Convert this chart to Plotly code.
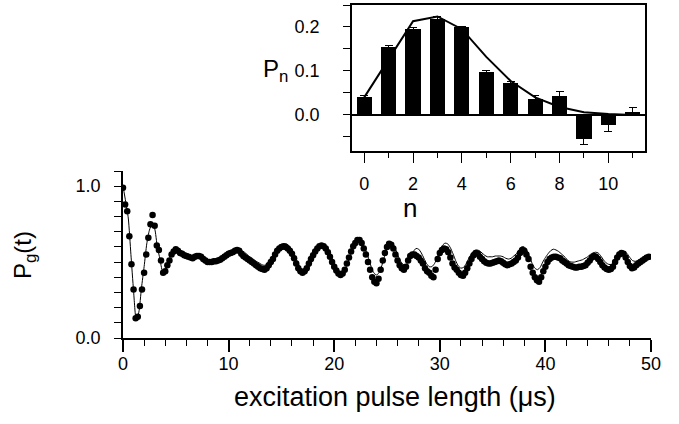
import numpy as np
import plotly.graph_objects as go

# ---------------- inset data ----------------
n_vals = [0, 1, 2, 3, 4, 5, 6, 7, 8, 9, 10, 11]
p_n = [0.041, 0.154, 0.195, 0.219, 0.199, 0.098, 0.072, 0.037, 0.043, -0.054, -0.023, 0.007]
p_n_err = [0.003, 0.003, 0.003, 0.004, 0.003, 0.004, 0.004, 0.007, 0.010, 0.013, 0.014, 0.009]
p_n_theory = [0.040, 0.125, 0.213, 0.224, 0.195, 0.132, 0.077, 0.040, 0.018, 0.006, 0.002, 0.000]

# ---------------- main data ----------------
t_step_data = 0.2
pg_data = [
    0.99, 0.88, 0.835, 0.67, 0.485, 0.32, 0.13, 0.14, 0.21, 0.32,
    0.43, 0.55, 0.66, 0.75, 0.81, 0.74, 0.61, 0.58, 0.51, 0.43,
    0.44, 0.48, 0.51, 0.55, 0.57, 0.585, 0.575, 0.56, 0.555, 0.545,
    0.54, 0.535, 0.53, 0.525, 0.535, 0.54, 0.54, 0.535, 0.52, 0.51,
    0.50, 0.50, 0.50, 0.505, 0.505, 0.51, 0.515, 0.525, 0.535, 0.545,
    0.555, 0.56, 0.565, 0.575, 0.58, 0.575, 0.555, 0.54, 0.53, 0.52,
    0.51, 0.50, 0.49, 0.48, 0.47, 0.46, 0.455, 0.45, 0.46, 0.48,
    0.50, 0.52, 0.55, 0.575, 0.59, 0.60, 0.605, 0.60, 0.59, 0.575,
    0.555, 0.525, 0.49, 0.46, 0.44, 0.43, 0.44, 0.46, 0.49, 0.52,
    0.545, 0.57, 0.59, 0.605, 0.61, 0.605, 0.59, 0.565, 0.535, 0.50,
    0.47, 0.445, 0.425, 0.415, 0.425, 0.45, 0.49, 0.53, 0.57, 0.605,
    0.625, 0.645, 0.645, 0.625, 0.59, 0.55, 0.50, 0.45, 0.40, 0.37,
    0.36, 0.39, 0.45, 0.51, 0.56, 0.60, 0.62, 0.615, 0.59, 0.55,
    0.51, 0.48, 0.46, 0.45, 0.47, 0.51, 0.54, 0.55, 0.55, 0.54,
    0.53, 0.51, 0.49, 0.46, 0.44, 0.43, 0.41, 0.40, 0.45, 0.52,
    0.56, 0.58, 0.59, 0.585, 0.565, 0.53, 0.49, 0.465, 0.45, 0.43,
    0.415, 0.41, 0.43, 0.46, 0.49, 0.52, 0.545, 0.56, 0.555, 0.535,
    0.52, 0.505, 0.495, 0.49, 0.49, 0.495, 0.50, 0.505, 0.51, 0.505,
    0.495, 0.485, 0.48, 0.485, 0.49, 0.50, 0.51, 0.53, 0.56, 0.58,
    0.575, 0.55, 0.52, 0.47, 0.43, 0.40, 0.38, 0.37, 0.40, 0.44,
    0.47, 0.50, 0.52, 0.53, 0.535, 0.535, 0.53, 0.525, 0.51, 0.50,
    0.49, 0.48, 0.475, 0.47, 0.465, 0.465, 0.47, 0.47, 0.475, 0.48,
    0.495, 0.51, 0.53, 0.54, 0.535, 0.52, 0.50, 0.48, 0.465, 0.455,
    0.45, 0.455, 0.47, 0.50, 0.53, 0.55, 0.56, 0.555, 0.53, 0.50,
    0.475, 0.46, 0.465, 0.48, 0.49, 0.50, 0.51, 0.52, 0.53, 0.535,
]
t_data = np.arange(len(pg_data)) * t_step_data

t_step_theory = 0.25
pg_theory = [
    1.00, 0.90, 0.79, 0.55, 0.31, 0.12, 0.17, 0.33,
    0.47, 0.62, 0.71, 0.75, 0.72, 0.60, 0.52, 0.44,
    0.44, 0.49, 0.54, 0.57, 0.58, 0.57, 0.555, 0.545,
    0.54, 0.535, 0.53, 0.535, 0.54, 0.54, 0.53, 0.515,
    0.505, 0.505, 0.51, 0.515, 0.52, 0.53, 0.54, 0.55,
    0.56, 0.57, 0.58, 0.585, 0.585, 0.575, 0.565, 0.55,
    0.535, 0.525, 0.51, 0.50, 0.49, 0.48, 0.48, 0.50,
    0.52, 0.55, 0.575, 0.595, 0.61, 0.62, 0.62, 0.605,
    0.58, 0.545, 0.505, 0.47, 0.45, 0.44, 0.45, 0.48,
    0.52, 0.56, 0.59, 0.61, 0.615, 0.605, 0.575, 0.535,
    0.49, 0.45, 0.425, 0.425, 0.45, 0.49, 0.54, 0.585,
    0.62, 0.64, 0.64, 0.615, 0.575, 0.525, 0.47, 0.43,
    0.415, 0.43, 0.475, 0.535, 0.59, 0.625, 0.625, 0.595,
    0.55, 0.51, 0.485, 0.48, 0.50, 0.535, 0.57, 0.59,
    0.585, 0.56, 0.525, 0.49, 0.47, 0.47, 0.49, 0.53,
    0.575, 0.61, 0.625, 0.62, 0.595, 0.555, 0.51, 0.475,
    0.46, 0.465, 0.49, 0.525, 0.555, 0.575, 0.58, 0.575,
    0.56, 0.545, 0.535, 0.535, 0.535, 0.54, 0.54, 0.54,
    0.535, 0.525, 0.52, 0.525, 0.54, 0.555, 0.58, 0.60,
    0.60, 0.575, 0.535, 0.49, 0.46, 0.45, 0.465, 0.50,
    0.53, 0.555, 0.575, 0.585, 0.58, 0.57, 0.555, 0.54,
    0.52, 0.505, 0.50, 0.50, 0.505, 0.51, 0.515, 0.525,
    0.535, 0.55, 0.56, 0.565, 0.56, 0.54, 0.515, 0.495,
    0.485, 0.485, 0.50, 0.53, 0.555, 0.57, 0.57, 0.555,
    0.53, 0.51, 0.505, 0.51, 0.52, 0.53, 0.54, 0.54,
    0.535,
]
t_theory = np.arange(len(pg_theory)) * t_step_theory

main_xticks = [0, 10, 20, 30, 40, 50]
main_yticks = [0.0, 0.5, 1.0]
main_yticklabels = ["0.0", "", "1.0"]
inset_xticks = [0, 2, 4, 6, 8, 10]
inset_yticks = [0.0, 0.1, 0.2]
inset_yticklabels = ["0.0", "0.1", "0.2"]

FONT = "Liberation Sans, Arial, sans-serif"
W, H = 679, 424

def px_x(p):
    return p / W

def px_y(p):
    return (H - p) / H

fig = go.Figure()

fig.add_trace(go.Scatter(
    x=t_theory, y=pg_theory, mode="lines",
    line=dict(color="black", width=1, shape="spline", smoothing=0.6),
    xaxis="x", yaxis="y", hoverinfo="skip"))
fig.add_trace(go.Scatter(
    x=t_data, y=pg_data, mode="markers",
    marker=dict(color="black", size=6.5, line=dict(width=0)),
    xaxis="x", yaxis="y"))

fig.add_trace(go.Bar(
    x=n_vals, y=p_n, width=0.62, marker=dict(color="black", line=dict(width=0)),
    error_y=dict(type="data", array=p_n_err, color="black", thickness=1, width=4),
    xaxis="x2", yaxis="y2"))
fig.add_trace(go.Scatter(
    x=n_vals, y=p_n_theory, mode="lines", line=dict(color="black", width=2),
    xaxis="x2", yaxis="y2"))

common = dict(showgrid=False, automargin=False, linecolor="black", linewidth=1.5,
              tickcolor="black", ticks="outside")

fig.update_layout(
    template="none",
    width=W, height=H, margin=dict(l=0, r=0, t=0, b=0, pad=0),
    paper_bgcolor="white", plot_bgcolor="rgba(0,0,0,0)",
    showlegend=False, bargap=0,
    font=dict(family=FONT, color="black", size=17),
    xaxis=dict(
        domain=[px_x(123), px_x(651)], range=[0, 50], anchor="y",
        showline=True, zeroline=False,
        tickmode="array", tickvals=main_xticks,
        ticklen=12, tickwidth=1.5,
        minor=dict(dtick=2, tick0=0, ticklen=6, tickwidth=1.2, tickcolor="black", ticks="outside", showgrid=False),
        ticklabelstandoff=-3,
        tickfont=dict(size=18, family=FONT),
        **common,
    ),
    yaxis=dict(
        domain=[px_y(338), px_y(171)], range=[0, 1.1], anchor="x",
        showline=True, zeroline=False,
        tickmode="array", tickvals=main_yticks, ticktext=main_yticklabels,
        ticklen=7, tickwidth=1.2,
        minor=dict(dtick=0.1, tick0=0, ticklen=7, tickwidth=1.2, tickcolor="black", ticks="outside", showgrid=False),
        ticklabelstandoff=10,
        tickfont=dict(size=18, family=FONT),
        **common,
    ),
    xaxis2=dict(
        domain=[px_x(352), px_x(645)], range=[-0.5, 11.5], anchor="y2",
        showline=True, mirror=True, zeroline=False,
        tickmode="array", tickvals=inset_xticks,
        ticklen=10, tickwidth=1.2,
        minor=dict(dtick=1, tick0=0, ticklen=5, tickwidth=1.2, tickcolor="black", ticks="outside", showgrid=False),
        ticklabelstandoff=6,
        tickfont=dict(size=18, family=FONT),
        **common,
    ),
    yaxis2=dict(
        domain=[px_y(151), px_y(5)], range=[-0.082, 0.25], anchor="x2",
        showline=True, mirror=True,
        zeroline=True, zerolinecolor="black", zerolinewidth=1.5,
        tickmode="array", tickvals=inset_yticks, ticktext=inset_yticklabels,
        ticklen=7, tickwidth=1.2,
        minor=dict(dtick=0.05, tick0=0, ticklen=7, tickwidth=1.2, tickcolor="black", ticks="outside", showgrid=False),
        ticklabelstandoff=20,
        tickfont=dict(size=18, family=FONT),
        **common,
    ),
    annotations=[
        dict(text="excitation pulse length (\u03bcs)", x=px_x(395), y=px_y(397),
             xref="paper", yref="paper", showarrow=False, xanchor="center", yanchor="middle",
             font=dict(size=27, family=FONT)),
        dict(text="P<sub>g</sub>(t)", x=px_x(25), y=px_y(255), textangle=-90,
             xref="paper", yref="paper", showarrow=False, xanchor="center", yanchor="middle",
             font=dict(size=24, family=FONT)),
        dict(text="n", x=px_x(410), y=px_y(208),
             xref="paper", yref="paper", showarrow=False, xanchor="center", yanchor="middle",
             font=dict(size=26, family=FONT)),
        dict(text="P<sub>n</sub>", x=px_x(275), y=px_y(70),
             xref="paper", yref="paper", showarrow=False, xanchor="center", yanchor="middle",
             font=dict(size=24, family=FONT)),
    ],
)

fig.write_html("out.html")
